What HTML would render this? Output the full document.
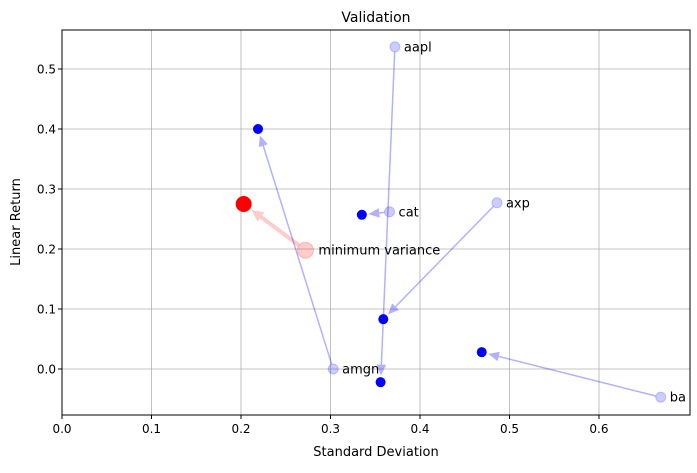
<!DOCTYPE html>
<html><head><meta charset="utf-8"><style>
body{margin:0;background:#fff}
svg{font-family:"DejaVu Sans","Liberation Sans",sans-serif}
</style></head><body>
<svg id="chart" width="697" height="468" viewBox="0 0 697 468" xmlns="http://www.w3.org/2000/svg">
<rect width="697" height="468" fill="#fff"/>
<text x="376" y="22" font-size="14" text-anchor="middle">Validation</text>
<g id="grid"></g>
<g id="marks"></g>
<rect x="62" y="30" width="628" height="385" fill="none" stroke="#000" stroke-width="1"/>
<g id="ticks"></g>
<text x="376" y="456" font-size="13" text-anchor="middle">Standard Deviation</text>
<text transform="translate(20,222) rotate(-90)" font-size="13" text-anchor="middle">Linear Return</text>
</svg>
<script>
const labels=["aapl","amgn","cat","axp","ba","minimum variance"];
const startX=[0.372,0.303,0.366,0.486,0.669,0.272];
const startY=[0.537,0.0,0.262,0.277,-0.047,0.198];
const endX=[0.356,0.219,0.335,0.359,0.469,0.203];
const endY=[-0.022,0.400,0.257,0.083,0.028,0.275];
const xTicks=[0,0.1,0.2,0.3,0.4,0.5,0.6];
const yTicks=[0,0.1,0.2,0.3,0.4,0.5];
const X0=62,X1=690,Y0=30,Y1=415;
const xmin=0,xmax=0.7017,ymin=-0.0767,ymax=0.565;
const sx=v=>X0+(v-xmin)/(xmax-xmin)*(X1-X0);
const sy=v=>Y1-(v-ymin)/(ymax-ymin)*(Y1-Y0);
const NS="http://www.w3.org/2000/svg";
function mk(tag,attrs,parent){const e=document.createElementNS(NS,tag);for(const k in attrs)e.setAttribute(k,attrs[k]);parent.appendChild(e);return e;}
const grid=document.getElementById('grid'),ticks=document.getElementById('ticks'),marks=document.getElementById('marks');
xTicks.forEach(t=>{const x=sx(t);
 const g=mk('line',{x1:x,x2:x,y1:Y0,y2:Y1,stroke:'#b0b0b0','stroke-width':0.8},grid);
 
 
 mk('line',{x1:x,x2:x,y1:Y1,y2:Y1+4,stroke:'#000'},ticks);
 const tx=mk('text',{x:x,y:Y1+18,'font-size':12,'text-anchor':'middle'},ticks);tx.textContent=t.toFixed(1);
 
 
});
yTicks.forEach(t=>{const y=sy(t);
 const g=mk('line',{x1:X0,x2:X1,y1:y,y2:y,stroke:'#b0b0b0','stroke-width':0.8},grid);
 
 
 mk('line',{x1:X0-4,x2:X0,y1:y,y2:y,stroke:'#000'},ticks);
 const tx=mk('text',{x:X0-6,y:y+4.5,'font-size':12,'text-anchor':'end'},ticks);tx.textContent=t.toFixed(1);
 
 
});
labels.forEach((lab,i)=>{
 const mv=lab==="minimum variance";
 const col=mv?'#ff0000':'#0000ff';
 const x1=sx(startX[i]),y1=sy(startY[i]),x2=sx(endX[i]),y2=sy(endY[i]);
 const dx=x2-x1,dy=y2-y1,L=Math.hypot(dx,dy),ux=dx/L,uy=dy/L;
 const sh=mv?11:8, ss=mv?8:5;
 const ax=x1+ux*ss,ay=y1+uy*ss,bx=x2-ux*sh,by=y2-uy*sh;
 const hl=mv?10:9,hw=mv?5:4;
 const hx=bx-ux*hl,hy=by-uy*hl;
 const g=mk('g',{opacity:mv?0.2:0.3},marks);
 
 
 mk('line',{x1:ax,y1:ay,x2:hx,y2:hy,stroke:col,'stroke-width':mv?4:1.5},g);
 mk('polygon',{points:`${bx},${by} ${hx-uy*hw},${hy+ux*hw} ${hx+uy*hw},${hy-ux*hw}`,fill:col,stroke:col,'stroke-width':1},g);
 const s=mk('circle',{cx:x1,cy:y1,r:mv?8:5,fill:col,'fill-opacity':0.2,stroke:col,'stroke-opacity':0.2},marks);
 
 
 const e=mk('circle',{cx:x2,cy:y2,r:mv?8:5,fill:col},marks);
 
 
 const t=mk('text',{x:x1+(mv?13:9),y:y1+4.5,'font-size':13},marks);t.textContent=lab;
 
 
});
</script>
</body></html>
